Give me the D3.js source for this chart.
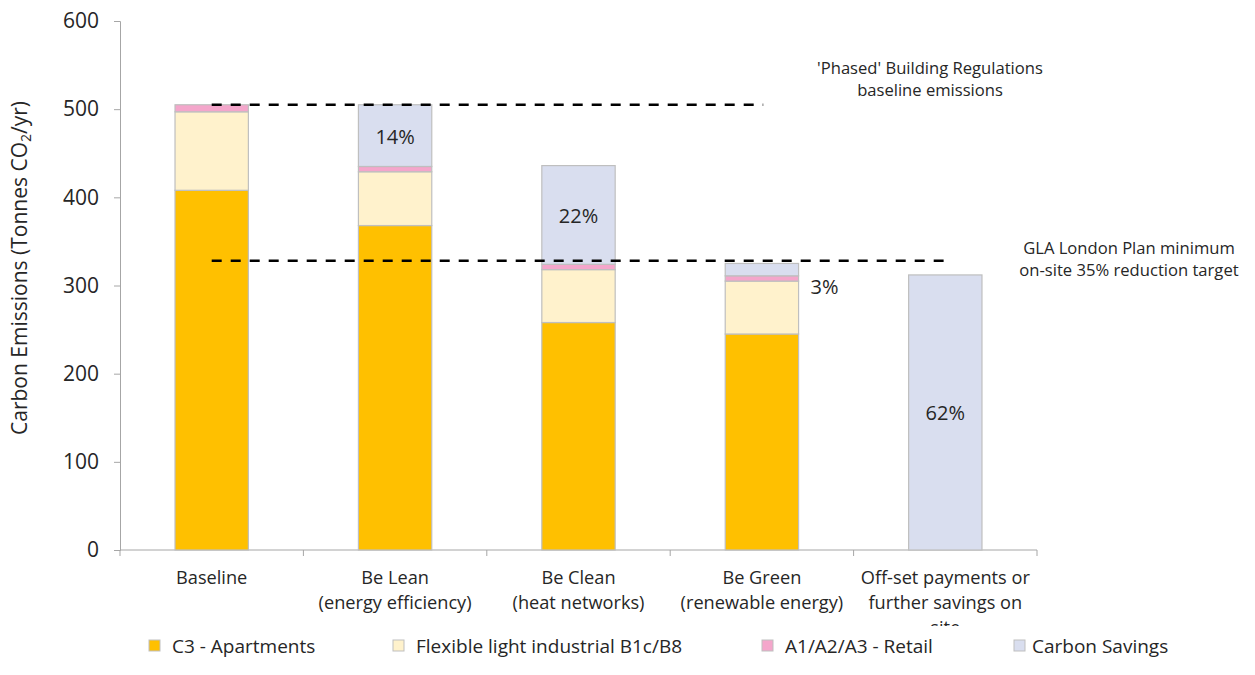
<!DOCTYPE html>
<html>
<head>
<meta charset="utf-8">
<script src="https://cdn.jsdelivr.net/npm/d3@7"></script>
<style>
  body { margin: 0; background: #fff; }
  text { font-family: "Open Sans", Lato, sans-serif; fill: #262626; }
</style>
</head>
<body>
<svg id="chart" width="1255" height="675"></svg>
<script>
// data
var categories = ['Baseline', 'Be Lean', 'Be Clean', 'Be Green', 'Off-set'];
var catLabels = [
    ['Baseline'],
    ['Be Lean', '(energy efficiency)'],
    ['Be Clean', '(heat networks)'],
    ['Be Green', '(renewable energy)'],
    ['Off-set payments or', 'further savings on', 'site']
];
var seriesNames = ['C3 - Apartments', 'Flexible light industrial B1c/B8', 'A1/A2/A3 - Retail', 'Carbon Savings'];
var apartments = [408, 368, 258, 245, 0];
var industrial = [89, 61, 60, 60, 0];
var retail     = [8, 6, 6, 6, 0];
var savings    = [0, 70, 112, 14, 312];
var savingLabels = ['', '14%', '22%', '3%', '62%'];
var yTicks = [0, 100, 200, 300, 400, 500, 600];
var baselineLevel = 505;
var targetLevel = 328;
var colors = ['#FFC000', '#FFF2CC', '#F4A6CB', '#D9DEEF'];

var svg = d3.select('#chart');
var plotLeft = 120, plotRight = 1037, plotTop = 21, plotBottom = 550;

var x = d3.scaleBand().domain(categories).range([plotLeft, plotRight]).paddingInner(0.6).paddingOuter(0.3);
var y = d3.scaleLinear().domain([0, 600]).range([plotBottom, plotTop]);

var rows = categories.map(function(c, i) {
    return { cat: c, a: apartments[i], b: industrial[i], c: retail[i], d: savings[i] };
});
var layers = d3.stack().keys(['a', 'b', 'c', 'd'])(rows);

// y axis
var yAxis = svg.append('g')
    .attr('transform', 'translate(' + plotLeft + ',0)')
    .call(d3.axisLeft(y).tickValues(yTicks).tickSize(6).tickPadding(15));
yAxis.select('.domain').attr('stroke', '#A6A6A6');
yAxis.selectAll('.tick line').attr('stroke', '#A6A6A6');
yAxis.selectAll('.tick text').style('font-size', '21px').style('font-family', '"Open Sans", sans-serif').attr('fill', '#262626');

// x axis line + boundary ticks
var step = x.step();
var xg = svg.append('g');
xg.append('line').attr('x1', plotLeft).attr('x2', plotRight).attr('y1', plotBottom).attr('y2', plotBottom)
    .attr('stroke', '#A6A6A6');
xg.selectAll('line.tk').data(d3.range(categories.length + 1)).enter().append('line')
    .attr('class', 'tk')
    .attr('x1', function(i) { return plotLeft + i * step; })
    .attr('x2', function(i) { return plotLeft + i * step; })
    .attr('y1', plotBottom).attr('y2', plotBottom + 6)
    .attr('stroke', '#A6A6A6');

// bars
svg.append('g').selectAll('g').data(layers).enter().append('g')
    .attr('fill', function(d, i) { return colors[i]; })
    .selectAll('rect').data(function(d) { return d.filter(function(p) { return p[1] - p[0] > 0; }); })
    .enter().append('rect')
    .attr('x', function(d) { return x(d.data.cat); })
    .attr('width', x.bandwidth())
    .attr('y', function(d) { return y(d[1]); })
    .attr('height', function(d) { return y(d[0]) - y(d[1]); })
    .attr('stroke', '#BFBFBF')
    .attr('stroke-width', 1.2);

// saving percentages
var savLayer = layers[3];
svg.append('g').selectAll('text').data(savLayer).enter().append('text')
    .text(function(d, i) { return savingLabels[i]; })
    .attr('x', function(d, i) {
        return i === 3 ? x(d.data.cat) + x.bandwidth() + 26 : x(d.data.cat) + x.bandwidth() / 2;
    })
    .attr('y', function(d, i) {
        return i === 3 ? y(d[1]) + 31 : (y(d[0]) + y(d[1])) / 2 + 8;
    })
    .attr('text-anchor', 'middle')
    .style('font-size', '20px');

// dashed reference lines
svg.append('line')
    .attr('x1', x('Baseline') + x.bandwidth() / 2).attr('x2', x('Be Green') + 38)
    .attr('y1', y(baselineLevel)).attr('y2', y(baselineLevel))
    .attr('stroke', '#000').attr('stroke-width', 2.5).attr('stroke-dasharray', '10,9');
svg.append('line')
    .attr('x1', x('Baseline') + x.bandwidth() / 2).attr('x2', x('Off-set') + 35)
    .attr('y1', y(targetLevel)).attr('y2', y(targetLevel))
    .attr('stroke', '#000').attr('stroke-width', 2.5).attr('stroke-dasharray', '10,9');

// annotations
var notes = [
    { x: 930, y: 74, lines: ["'Phased' Building Regulations", 'baseline emissions'] },
    { x: 1129, y: 254, lines: ['GLA London Plan minimum', 'on-site 35% reduction target'] }
];
notes.forEach(function(n) {
    var t = svg.append('text').attr('text-anchor', 'middle').style('font-size', '16.6px');
    n.lines.forEach(function(l, i) {
        t.append('tspan').attr('x', n.x).attr('y', n.y + i * 22).text(l);
    });
});

// category labels (third line clipped like the original)
svg.append('clipPath').attr('id', 'labclip')
    .append('rect').attr('x', 0).attr('y', 555).attr('width', 1255).attr('height', 71);
var cl = svg.append('g').attr('clip-path', 'url(#labclip)');
categories.forEach(function(c, i) {
    var t = cl.append('text').attr('text-anchor', 'middle').style('font-size', '18.2px');
    catLabels[i].forEach(function(l, j) {
        t.append('tspan').attr('x', x(c) + x.bandwidth() / 2).attr('y', 584 + j * 25).text(l);
    });
});

// y title
svg.append('text')
    .attr('transform', 'translate(27,268) rotate(-90)')
    .attr('text-anchor', 'middle')
    .style('font-size', '21px')
    .html('Carbon Emissions (Tonnes CO<tspan font-size="14px" dy="4">2</tspan><tspan dy="-4">/yr)</tspan>');

// legend
var legX = [149, 393, 762, 1014];
var leg = svg.append('g');
seriesNames.forEach(function(s, i) {
    leg.append('rect').attr('x', legX[i]).attr('y', 640).attr('width', 11).attr('height', 11)
        .attr('fill', colors[i]).attr('stroke', '#BFBFBF');
    leg.append('text').attr('x', legX[i] + (i === 3 ? 18 : 23)).attr('y', 653)
        .style('font-size', '19px').text(s);
});
</script>
</body>
</html>
